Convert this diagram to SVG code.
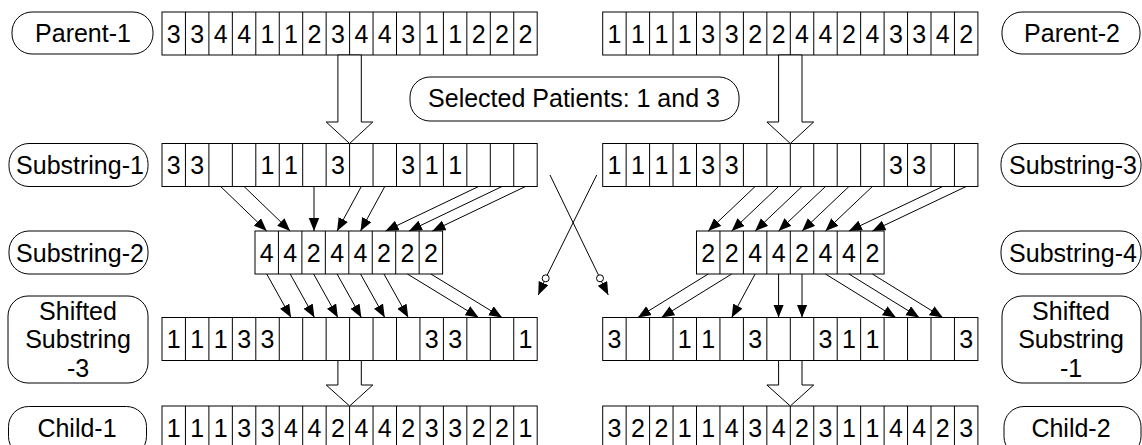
<svg xmlns="http://www.w3.org/2000/svg" xmlns:xlink="http://www.w3.org/1999/xlink" width="1142" height="445" viewBox="0 0 1142 445">
<style>
.cell{fill:#fff;stroke:#000;stroke-width:1}
.sep{fill:none;stroke:#000;stroke-width:1}
.d{font-family:"Liberation Sans",Arial,sans-serif;font-size:25px;text-anchor:middle;fill:#000}
.lb{fill:#fff;stroke:#000;stroke-width:1}
.lt{font-family:"Liberation Sans",Arial,sans-serif;font-size:25px;text-anchor:middle;fill:#000}
.big{fill:#fff;stroke:#000;stroke-width:1}
.ar{fill:none;stroke:#000;stroke-width:1;marker-end:url(#ah)}
.ln{fill:none;stroke:#000;stroke-width:1}
.dot{fill:#fff;stroke:#000;stroke-width:1}
</style>
<defs>
<marker id="ah" markerUnits="userSpaceOnUse" markerWidth="14" markerHeight="11" refX="13" refY="5.25" orient="auto">
<path d="M0,0 L13,5.25 L0,10.5 z" fill="#000"/>
</marker>
<path id="sep16" class="sep" d="M23.45,0V43M46.9,0V43M70.35,0V43M93.8,0V43M117.25,0V43M140.7,0V43M164.15,0V43M187.6,0V43M211.05,0V43M234.5,0V43M257.95,0V43M281.4,0V43M304.85,0V43M328.3,0V43M351.75,0V43"/>
<path id="sep8" class="sep" d="M23.45,0V43M46.9,0V43M70.35,0V43M93.8,0V43M117.25,0V43M140.7,0V43M164.15,0V43"/>
</defs>
<rect width="1142" height="445" fill="#fff"/>

<!-- Labels -->
<g id="label-parent1"><rect class="lb" x="12" y="12" width="141" height="42" rx="20"/><text class="lt" x="83" y="42">Parent-1</text></g>
<g id="label-parent2"><rect class="lb" x="1002" y="12" width="138" height="42" rx="20"/><text class="lt" x="1072" y="42">Parent-2</text></g>
<g id="label-selected"><rect class="lb" x="410" y="77" width="329" height="44" rx="20"/><text class="lt" x="574" y="107">Selected Patients: 1 and 3</text></g>
<g id="label-sub1"><rect class="lb" x="9" y="143.5" width="139" height="43" rx="20"/><text class="lt" x="80" y="174">Substring-1</text></g>
<g id="label-sub3"><rect class="lb" x="1001" y="143.5" width="140" height="43" rx="20"/><text class="lt" x="1073" y="174">Substring-3</text></g>
<g id="label-sub2"><rect class="lb" x="9" y="231" width="139" height="43" rx="20"/><text class="lt" x="80" y="261.5">Substring-2</text></g>
<g id="label-sub4"><rect class="lb" x="1001" y="231" width="140" height="43" rx="20"/><text class="lt" x="1073" y="261.5">Substring-4</text></g>
<g id="label-shift3"><rect class="lb" x="8" y="296" width="140" height="87" rx="20"/><text class="lt" x="78" y="319.5">Shifted</text><text class="lt" x="78" y="348.3">Substring</text><text class="lt" x="78" y="377.3">-3</text></g>
<g id="label-shift1"><rect class="lb" x="1002" y="296" width="139" height="87" rx="20"/><text class="lt" x="1071" y="319.5">Shifted</text><text class="lt" x="1071" y="348.3">Substring</text><text class="lt" x="1071" y="377.3">-1</text></g>
<g id="label-child1"><rect class="lb" x="8.5" y="406.5" width="138" height="50" rx="20"/><text class="lt" x="77" y="436.5">Child-1</text></g>
<g id="label-child2"><rect class="lb" x="1004" y="406.5" width="137" height="50" rx="20"/><text class="lt" x="1071" y="436.5">Child-2</text></g>

<!-- Rows -->
<g id="row-parent1"><rect class="cell" x="162" y="12" width="375.2" height="43"/><use xlink:href="#sep16" x="162" y="12"/>
<text class="d" y="42.5"><tspan x="173.73">3</tspan><tspan x="197.18">3</tspan><tspan x="220.63">4</tspan><tspan x="244.08">4</tspan><tspan x="267.53">1</tspan><tspan x="290.98">1</tspan><tspan x="314.43">2</tspan><tspan x="337.88">3</tspan><tspan x="361.33">4</tspan><tspan x="384.78">4</tspan><tspan x="408.23">3</tspan><tspan x="431.68">1</tspan><tspan x="455.13">1</tspan><tspan x="478.58">2</tspan><tspan x="502.03">2</tspan><tspan x="525.48">2</tspan></text></g>
<g id="row-parent2"><rect class="cell" x="602.7" y="12" width="375.2" height="43"/><use xlink:href="#sep16" x="602.7" y="12"/>
<text class="d" y="42.5"><tspan x="614.43">1</tspan><tspan x="637.88">1</tspan><tspan x="661.33">1</tspan><tspan x="684.78">1</tspan><tspan x="708.23">3</tspan><tspan x="731.68">3</tspan><tspan x="755.13">2</tspan><tspan x="778.58">2</tspan><tspan x="802.03">4</tspan><tspan x="825.48">4</tspan><tspan x="848.93">2</tspan><tspan x="872.38">4</tspan><tspan x="895.83">3</tspan><tspan x="919.28">3</tspan><tspan x="942.73">4</tspan><tspan x="966.18">2</tspan></text></g>

<g id="row-sub1"><rect class="cell" x="162" y="143.5" width="375.2" height="43"/><use xlink:href="#sep16" x="162" y="143.5"/>
<text class="d" y="174"><tspan x="173.73">3</tspan><tspan x="197.18">3</tspan><tspan x="267.53">1</tspan><tspan x="290.98">1</tspan><tspan x="337.88">3</tspan><tspan x="408.23">3</tspan><tspan x="431.68">1</tspan><tspan x="455.13">1</tspan></text></g>
<g id="row-sub3"><rect class="cell" x="602.7" y="143.5" width="375.2" height="43"/><use xlink:href="#sep16" x="602.7" y="143.5"/>
<text class="d" y="174"><tspan x="614.43">1</tspan><tspan x="637.88">1</tspan><tspan x="661.33">1</tspan><tspan x="684.78">1</tspan><tspan x="708.23">3</tspan><tspan x="731.68">3</tspan><tspan x="895.83">3</tspan><tspan x="919.28">3</tspan></text></g>

<g id="row-sub2"><rect class="cell" x="255" y="231" width="187.6" height="43"/><use xlink:href="#sep8" x="255" y="231"/>
<text class="d" y="261.5"><tspan x="266.73">4</tspan><tspan x="290.18">4</tspan><tspan x="313.63">2</tspan><tspan x="337.08">4</tspan><tspan x="360.53">4</tspan><tspan x="383.98">2</tspan><tspan x="407.43">2</tspan><tspan x="430.88">2</tspan></text></g>
<g id="row-sub4"><rect class="cell" x="696.5" y="231" width="187.6" height="43"/><use xlink:href="#sep8" x="696.5" y="231"/>
<text class="d" y="261.5"><tspan x="708.23">2</tspan><tspan x="731.68">2</tspan><tspan x="755.13">4</tspan><tspan x="778.58">4</tspan><tspan x="802.03">2</tspan><tspan x="825.48">4</tspan><tspan x="848.93">4</tspan><tspan x="872.38">2</tspan></text></g>

<g id="row-shift3"><rect class="cell" x="162" y="317.5" width="375.2" height="43"/><use xlink:href="#sep16" x="162" y="317.5"/>
<text class="d" y="348"><tspan x="173.73">1</tspan><tspan x="197.18">1</tspan><tspan x="220.63">1</tspan><tspan x="244.08">3</tspan><tspan x="267.53">3</tspan><tspan x="431.68">3</tspan><tspan x="455.13">3</tspan><tspan x="525.48">1</tspan></text></g>
<g id="row-shift1"><rect class="cell" x="602.7" y="317.5" width="375.2" height="43"/><use xlink:href="#sep16" x="602.7" y="317.5"/>
<text class="d" y="348"><tspan x="614.43">3</tspan><tspan x="684.78">1</tspan><tspan x="708.23">1</tspan><tspan x="755.13">3</tspan><tspan x="825.48">3</tspan><tspan x="848.93">1</tspan><tspan x="872.38">1</tspan><tspan x="966.18">3</tspan></text></g>

<g id="row-child1"><rect class="cell" x="162" y="406" width="375.2" height="43"/><use xlink:href="#sep16" x="162" y="406"/>
<text class="d" y="436.5"><tspan x="173.73">1</tspan><tspan x="197.18">1</tspan><tspan x="220.63">1</tspan><tspan x="244.08">3</tspan><tspan x="267.53">3</tspan><tspan x="290.98">4</tspan><tspan x="314.43">4</tspan><tspan x="337.88">2</tspan><tspan x="361.33">4</tspan><tspan x="384.78">4</tspan><tspan x="408.23">2</tspan><tspan x="431.68">3</tspan><tspan x="455.13">3</tspan><tspan x="478.58">2</tspan><tspan x="502.03">2</tspan><tspan x="525.48">1</tspan></text></g>
<g id="row-child2"><rect class="cell" x="602.7" y="406" width="375.2" height="43"/><use xlink:href="#sep16" x="602.7" y="406"/>
<text class="d" y="436.5"><tspan x="614.43">3</tspan><tspan x="637.88">2</tspan><tspan x="661.33">2</tspan><tspan x="684.78">1</tspan><tspan x="708.23">1</tspan><tspan x="731.68">4</tspan><tspan x="755.13">3</tspan><tspan x="778.58">4</tspan><tspan x="802.03">2</tspan><tspan x="825.48">3</tspan><tspan x="848.93">1</tspan><tspan x="872.38">1</tspan><tspan x="895.83">4</tspan><tspan x="919.28">4</tspan><tspan x="942.73">2</tspan><tspan x="966.18">3</tspan></text></g>

<!-- Connectors -->
<g id="connectors">
<polygon class="big" points="337.9,55 361.3,55 361.3,122 372.8,122 349.6,143.5 326.2,122 337.9,122"/>
<polygon class="big" points="778.6,55 802,55 802,122 813.7,122 790.3,143.5 766.9,122 778.6,122"/>
<polygon class="big" points="337.9,360.5 361.3,360.5 361.3,385 372.8,385 349.6,406 326.2,385 337.9,385"/>
<polygon class="big" points="778.6,360.5 802,360.5 802,385 813.7,385 790.3,406 766.9,385 778.6,385"/>

<path class="ar" d="M220.63,186.5L266.73,231"/>
<path class="ar" d="M244.08,186.5L290.18,231"/>
<path class="ar" d="M314,186.5L314,231"/>
<path class="ar" d="M361.33,186.5L337.08,231"/>
<path class="ar" d="M384.78,186.5L360.53,231"/>
<path class="ar" d="M478.58,186.5L385.5,231"/>
<path class="ar" d="M502.03,186.5L409,231"/>
<path class="ar" d="M525.48,186.5L432.4,231"/>

<path class="ar" d="M755.13,186.5L708.23,231"/>
<path class="ar" d="M778.58,186.5L731.68,231"/>
<path class="ar" d="M802.03,186.5L755.13,231"/>
<path class="ar" d="M825.48,186.5L778.58,231"/>
<path class="ar" d="M848.93,186.5L802.03,231"/>
<path class="ar" d="M872.38,186.5L825.48,231"/>
<path class="ar" d="M942.73,186.5L848.93,231"/>
<path class="ar" d="M966.18,186.5L872.38,231"/>

<path class="ar" d="M266.73,274L290.98,317.5"/>
<path class="ar" d="M290.18,274L314.43,317.5"/>
<path class="ar" d="M313.63,274L337.88,317.5"/>
<path class="ar" d="M337.08,274L361.33,317.5"/>
<path class="ar" d="M360.53,274L384.78,317.5"/>
<path class="ar" d="M383.98,274L408.23,317.5"/>
<path class="ar" d="M407.43,274L478.58,317.5"/>
<path class="ar" d="M430.88,274L502.03,317.5"/>

<path class="ar" d="M708.23,274L637.88,317.5"/>
<path class="ar" d="M731.68,274L661.33,317.5"/>
<path class="ar" d="M755.13,274L731.68,317.5"/>
<path class="ar" d="M778.58,274L778.58,317.5"/>
<path class="ar" d="M802.03,274L802.03,317.5"/>
<path class="ar" d="M825.48,274L895.83,317.5"/>
<path class="ar" d="M848.93,274L919.28,317.5"/>
<path class="ar" d="M872.38,274L942.73,317.5"/>

<path class="ln" d="M550,175L598.5,275.1"/>
<circle class="dot" cx="600" cy="278.3" r="3.5"/>
<path class="ar" d="M601.5,281.5L608.3,295"/>
<path class="ln" d="M596.7,175L547.2,275.1"/>
<circle class="dot" cx="545.7" cy="278.3" r="3.5"/>
<path class="ar" d="M544.2,281.5L538.3,295"/>
</g>
</svg>
